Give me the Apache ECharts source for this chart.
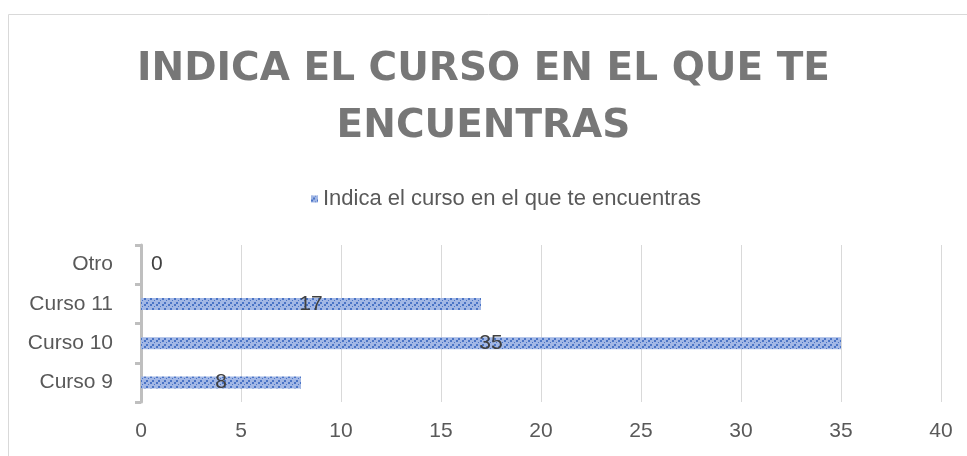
<!DOCTYPE html>
<html>
<head>
<meta charset="utf-8">
<script src="https://cdn.jsdelivr.net/npm/echarts@6/dist/echarts.min.js"></script>
<style>
  html, body { margin: 0; padding: 0; background: #fff; }
  #chart { width: 967px; height: 456px; }
</style>
</head>
<body>
<div id="chart"></div>
<script>
// datos
const categorias = ['Curso 9', 'Curso 10', 'Curso 11', 'Otro'];
const valores = [8, 35, 17, 0];
const ticksX = [0, 5, 10, 15, 20, 25, 30, 35, 40];
const nombreSerie = 'Indica el curso en el que te encuentras';
const titulo = 'INDICA EL CURSO EN EL QUE TE\nENCUENTRAS';

// patrón de rayas diagonales (relleno de las barras)
function crearPatron() {
  const c = document.createElement('canvas');
  c.width = 6;
  c.height = 6;
  const ctx = c.getContext('2d');
  ctx.fillStyle = '#a2b7e5';
  ctx.fillRect(0, 0, 6, 6);
  ctx.fillStyle = '#4a74c6';
  ctx.fillRect(0, 4, 2, 2);
  ctx.fillRect(2, 2, 2, 2);
  ctx.fillRect(4, 0, 1, 1);
  return c;
}
const patron = { image: crearPatron(), repeat: 'repeat' };

const chart = echarts.init(document.getElementById('chart'));

const option = {
  animation: false,
  textStyle: { fontFamily: 'Liberation Sans, Arial, sans-serif' },
  title: {
    text: titulo,
    left: 'center',
    top: 36,
    textStyle: {
      fontFamily: 'DejaVu Sans',
      fontSize: 39,
      fontWeight: 'bold',
      color: '#777777',
      lineHeight: 57
    }
  },
  legend: {
    data: [nombreSerie],
    left: 306,
    top: 183,
    itemWidth: 7,
    itemHeight: 7,
    icon: 'rect',
    textStyle: { fontSize: 22, color: '#595959' }
  },
  graphic: [{
    type: 'rect',
    shape: { x: 8.5, y: 14.5, width: 1000, height: 500 },
    style: { fill: 'none', stroke: '#d9d9d9', lineWidth: 1 },
    silent: true
  }],
  grid: {
    left: 141,
    right: 26,
    top: 245,
    bottom: 54
  },
  xAxis: {
    type: 'value',
    min: ticksX[0],
    max: ticksX[ticksX.length - 1],
    interval: 5,
    axisLine: { show: false },
    axisTick: { show: false },
    axisLabel: { fontSize: 21, color: '#595959', margin: 19 },
    splitLine: { lineStyle: { color: '#d9d9d9', width: 1 } }
  },
  yAxis: {
    type: 'category',
    data: categorias,
    axisLine: { lineStyle: { color: '#bfbfbf', width: 3 } },
    axisTick: { show: true, length: 6, lineStyle: { color: '#bfbfbf', width: 3 } },
    axisLabel: { fontSize: 21, color: '#595959', margin: 28 }
  },
  series: [{
    name: nombreSerie,
    type: 'bar',
    barWidth: 12,
    itemStyle: { color: patron },
    data: valores.map(v => v === 0
      ? { value: v, label: { position: 'right', distance: 10 } }
      : v),
    label: {
      show: true,
      position: 'inside',
      fontSize: 21,
      color: '#404040'
    }
  }]
};

chart.setOption(option);

window.addEventListener('resize', () => {
  chart.resize();
});
</script>
</body>
</html>
